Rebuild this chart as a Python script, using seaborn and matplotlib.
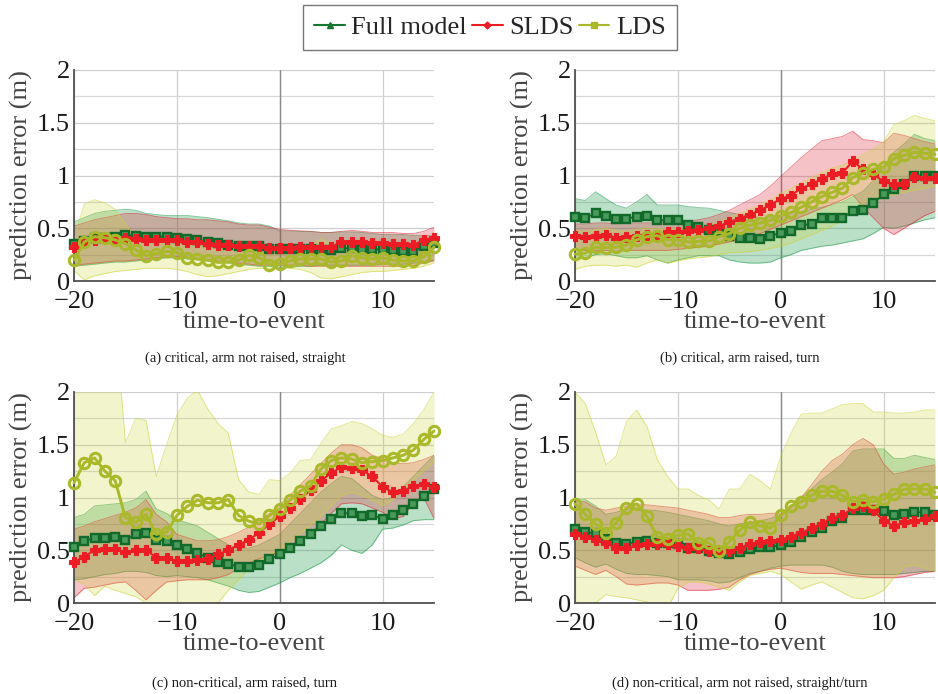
import numpy as np
import pandas as pd
import matplotlib
matplotlib.use("Agg")
import matplotlib.pyplot as plt
from matplotlib.lines import Line2D
from matplotlib.ticker import MultipleLocator
import seaborn as sns

# ---------------- data ----------------
time_to_event = list(range(-20, 16))

# (a) critical, arm not raised, straight
full_a = [0.355,0.38,0.41,0.41,0.42,0.437,0.43,0.42,0.42,0.42,0.41,0.40,0.39,0.374,0.359,0.343,0.333,0.33,0.333,0.30,0.30,0.30,0.30,0.30,0.29,0.29,0.31,0.31,0.30,0.30,0.30,0.29,0.28,0.28,0.33,0.36]
full_a_hi = [0.56,0.60,0.64,0.66,0.67,0.68,0.67,0.64,0.63,0.62,0.62,0.62,0.61,0.60,0.585,0.57,0.55,0.54,0.54,0.52,0.475,0.475,0.47,0.47,0.46,0.46,0.465,0.465,0.46,0.45,0.44,0.44,0.44,0.43,0.43,0.43]
full_a_lo = [0.14,0.15,0.16,0.17,0.18,0.18,0.19,0.20,0.21,0.22,0.22,0.21,0.20,0.19,0.18,0.17,0.16,0.15,0.14,0.14,0.13,0.13,0.14,0.14,0.15,0.15,0.15,0.15,0.15,0.15,0.16,0.16,0.16,0.17,0.18,0.20]
slds_a = [0.32,0.37,0.39,0.405,0.39,0.41,0.40,0.39,0.39,0.39,0.39,0.37,0.365,0.35,0.34,0.34,0.333,0.33,0.333,0.31,0.31,0.31,0.32,0.32,0.32,0.32,0.37,0.37,0.365,0.36,0.36,0.35,0.35,0.34,0.39,0.405]
slds_a_hi = [0.52,0.55,0.58,0.60,0.62,0.64,0.64,0.63,0.61,0.60,0.59,0.59,0.58,0.58,0.57,0.56,0.54,0.53,0.53,0.51,0.49,0.48,0.475,0.47,0.46,0.46,0.47,0.48,0.47,0.46,0.46,0.46,0.45,0.45,0.47,0.51]
slds_a_lo = [0.15,0.16,0.17,0.18,0.19,0.19,0.20,0.21,0.22,0.23,0.23,0.22,0.21,0.20,0.19,0.18,0.17,0.16,0.15,0.15,0.15,0.15,0.15,0.14,0.14,0.14,0.14,0.14,0.14,0.14,0.14,0.14,0.14,0.15,0.17,0.19]
lds_a = [0.198,0.37,0.42,0.41,0.39,0.355,0.295,0.24,0.26,0.28,0.27,0.22,0.21,0.198,0.176,0.18,0.198,0.245,0.22,0.155,0.16,0.19,0.21,0.21,0.21,0.18,0.19,0.24,0.22,0.21,0.22,0.198,0.19,0.19,0.23,0.32]
lds_a_hi = [0.41,0.73,0.77,0.74,0.68,0.54,0.41,0.37,0.36,0.35,0.35,0.34,0.33,0.32,0.31,0.30,0.31,0.38,0.34,0.28,0.27,0.29,0.31,0.33,0.40,0.35,0.35,0.40,0.36,0.33,0.33,0.32,0.33,0.34,0.36,0.41]
lds_a_lo = [0.10,0.01,0.05,0.07,0.09,0.10,0.11,0.12,0.12,0.12,0.11,0.09,0.06,0.04,0.05,0.07,0.09,0.11,0.12,0.12,0.12,0.12,0.11,0.08,0.03,0.02,0.04,0.06,0.08,0.09,0.09,0.10,0.11,0.12,0.14,0.17]

# (b) critical, arm raised, turn
full_b = [0.61,0.60,0.64,0.62,0.59,0.59,0.61,0.62,0.575,0.575,0.58,0.53,0.515,0.48,0.475,0.43,0.41,0.41,0.40,0.43,0.455,0.47,0.53,0.54,0.60,0.60,0.60,0.66,0.67,0.74,0.82,0.87,0.92,1.0,1.0,1.0]
full_b_hi = [0.78,0.763,0.845,0.78,0.72,0.69,0.75,0.82,0.72,0.72,0.72,0.705,0.695,0.69,0.67,0.65,0.63,0.62,0.60,0.60,0.62,0.64,0.66,0.68,0.70,0.72,0.75,0.80,0.85,0.95,1.08,1.22,1.30,1.39,1.35,1.33]
full_b_lo = [0.20,0.22,0.25,0.26,0.24,0.22,0.22,0.24,0.20,0.17,0.20,0.22,0.24,0.24,0.24,0.20,0.18,0.17,0.17,0.18,0.22,0.25,0.29,0.31,0.33,0.34,0.36,0.38,0.40,0.45,0.51,0.50,0.52,0.55,0.58,0.60]
slds_b = [0.43,0.42,0.43,0.435,0.41,0.42,0.43,0.435,0.435,0.46,0.46,0.47,0.48,0.50,0.52,0.56,0.59,0.63,0.67,0.72,0.78,0.81,0.88,0.915,0.97,1.01,1.025,1.135,1.06,1.01,0.945,0.92,0.92,0.99,0.98,0.98]
slds_b_hi = [0.54,0.54,0.55,0.55,0.54,0.55,0.55,0.55,0.55,0.55,0.56,0.57,0.58,0.60,0.63,0.67,0.72,0.77,0.82,0.90,0.99,1.08,1.17,1.25,1.33,1.35,1.37,1.42,1.34,1.33,1.31,1.40,1.38,1.35,1.32,1.30]
slds_b_lo = [0.29,0.29,0.29,0.29,0.28,0.29,0.29,0.29,0.29,0.29,0.30,0.31,0.32,0.33,0.35,0.37,0.39,0.41,0.45,0.49,0.53,0.57,0.61,0.65,0.69,0.73,0.77,0.82,0.70,0.60,0.50,0.44,0.50,0.56,0.62,0.66]
lds_b = [0.255,0.264,0.32,0.317,0.32,0.34,0.39,0.42,0.43,0.39,0.39,0.37,0.375,0.38,0.42,0.45,0.50,0.53,0.55,0.575,0.62,0.65,0.70,0.75,0.80,0.84,0.88,0.98,1.02,1.06,1.08,1.16,1.19,1.22,1.21,1.20]
lds_b_hi = [0.48,0.47,0.49,0.50,0.48,0.47,0.49,0.50,0.50,0.49,0.50,0.50,0.51,0.53,0.56,0.60,0.64,0.68,0.72,0.77,0.83,0.88,0.93,0.98,1.03,1.07,1.10,1.14,1.20,1.25,1.32,1.48,1.52,1.57,1.54,1.52]
lds_b_lo = [0.11,0.14,0.15,0.15,0.14,0.15,0.13,0.17,0.20,0.17,0.19,0.21,0.22,0.23,0.25,0.27,0.27,0.28,0.29,0.31,0.33,0.36,0.40,0.44,0.48,0.52,0.58,0.66,0.74,0.78,0.80,0.82,0.84,0.86,0.88,0.90]

# (c) non-critical, arm raised, turn
full_c = [0.53,0.585,0.62,0.62,0.63,0.60,0.65,0.665,0.60,0.59,0.55,0.515,0.47,0.43,0.39,0.37,0.345,0.345,0.36,0.415,0.46,0.52,0.59,0.655,0.73,0.80,0.85,0.85,0.82,0.83,0.80,0.83,0.88,0.94,1.01,1.08]
full_c_hi = [0.81,0.84,0.92,0.93,0.94,0.95,0.98,1.06,0.89,0.85,0.79,0.76,0.73,0.67,0.61,0.55,0.52,0.52,0.55,0.60,0.65,0.75,0.85,0.95,1.05,1.13,1.20,1.18,1.10,1.02,0.98,1.00,1.10,1.20,1.30,1.40]
full_c_lo = [0.22,0.23,0.25,0.27,0.28,0.30,0.30,0.29,0.26,0.25,0.26,0.25,0.24,0.22,0.19,0.16,0.12,0.10,0.11,0.15,0.19,0.24,0.28,0.33,0.38,0.45,0.55,0.50,0.47,0.55,0.70,0.71,0.74,0.78,0.79,0.79]
slds_c = [0.385,0.44,0.50,0.51,0.51,0.48,0.50,0.505,0.43,0.43,0.40,0.40,0.41,0.415,0.46,0.50,0.55,0.60,0.665,0.75,0.82,0.90,0.985,1.07,1.16,1.23,1.29,1.28,1.26,1.20,1.10,1.05,1.06,1.11,1.125,1.10]
slds_c_hi = [0.70,0.73,0.77,0.80,0.83,0.86,0.90,0.98,0.84,0.77,0.65,0.62,0.59,0.59,0.60,0.63,0.67,0.72,0.78,0.85,0.93,1.02,1.12,1.22,1.32,1.42,1.50,1.50,1.47,1.40,1.37,1.33,1.32,1.33,1.36,1.40]
slds_c_lo = [0.05,0.14,0.15,0.17,0.19,0.20,0.12,0.03,0.12,0.20,0.21,0.22,0.22,0.22,0.24,0.27,0.33,0.38,0.42,0.45,0.48,0.54,0.60,0.66,0.75,0.85,0.94,0.95,0.94,0.90,0.86,0.80,0.82,0.95,1.0,0.80]
lds_c = [1.14,1.33,1.375,1.25,1.16,0.81,0.765,0.84,0.65,0.67,0.83,0.915,0.975,0.95,0.95,0.98,0.83,0.775,0.75,0.83,0.89,0.975,1.06,1.11,1.27,1.35,1.375,1.365,1.33,1.34,1.35,1.375,1.40,1.45,1.55,1.63]
lds_c_hi = [2.5,2.5,2.5,2.5,2.7,1.52,1.75,1.73,1.20,1.50,1.78,1.94,2.02,1.84,1.70,1.61,1.17,1.05,1.03,1.17,1.16,1.23,1.35,1.36,1.51,1.65,1.68,1.72,1.70,1.65,1.59,1.57,1.60,1.70,1.83,2.0]
lds_c_lo = [0.22,0.18,0.07,0.16,0.12,0.09,0.06,0.0,-0.2,-0.3,-0.3,-0.3,-0.3,-0.2,0.0,0.12,0.22,0.32,0.40,0.46,0.50,0.58,0.66,0.74,0.82,0.92,1.02,1.05,1.02,0.98,0.92,0.98,1.08,1.16,1.25,1.34]

# (d) non-critical, arm not raised, straight/turn
full_d = [0.70,0.67,0.66,0.61,0.57,0.56,0.58,0.585,0.57,0.57,0.56,0.52,0.52,0.49,0.47,0.46,0.48,0.515,0.53,0.53,0.55,0.58,0.625,0.67,0.71,0.78,0.81,0.88,0.88,0.88,0.875,0.83,0.84,0.86,0.86,0.83]
full_d_hi = [0.975,0.98,0.92,0.84,0.86,0.89,0.90,0.88,0.875,0.86,0.84,0.82,0.80,0.78,0.75,0.73,0.75,0.765,0.78,0.80,0.84,0.92,1.00,1.08,1.17,1.24,1.32,1.44,1.46,1.46,1.46,1.37,1.37,1.40,1.38,1.36]
full_d_lo = [0.43,0.38,0.34,0.37,0.32,0.28,0.27,0.27,0.26,0.25,0.22,0.22,0.22,0.21,0.19,0.20,0.24,0.28,0.30,0.33,0.35,0.36,0.36,0.36,0.36,0.34,0.30,0.28,0.27,0.27,0.27,0.27,0.28,0.29,0.30,0.30]
slds_d = [0.65,0.63,0.60,0.57,0.52,0.52,0.55,0.56,0.56,0.56,0.54,0.52,0.52,0.49,0.49,0.49,0.52,0.56,0.58,0.585,0.60,0.63,0.665,0.71,0.75,0.81,0.83,0.90,0.915,0.88,0.78,0.73,0.765,0.775,0.80,0.82]
slds_d_hi = [0.96,0.96,0.90,0.88,0.90,0.92,0.94,0.93,0.92,0.91,0.90,0.88,0.86,0.84,0.81,0.81,0.83,0.84,0.84,0.85,0.85,0.90,1.00,1.12,1.25,1.35,1.41,1.50,1.56,1.50,1.32,1.22,1.24,1.27,1.29,1.31]
slds_d_lo = [0.35,0.31,0.27,0.31,0.25,0.18,0.17,0.18,0.19,0.19,0.17,0.12,0.12,0.12,0.13,0.15,0.22,0.27,0.30,0.32,0.33,0.31,0.29,0.28,0.28,0.28,0.27,0.26,0.25,0.24,0.24,0.24,0.25,0.27,0.29,0.30]
lds_d = [0.94,0.84,0.75,0.665,0.76,0.90,0.94,0.82,0.625,0.61,0.64,0.655,0.57,0.57,0.49,0.58,0.69,0.765,0.73,0.71,0.83,0.92,0.96,1.02,1.06,1.06,1.02,0.96,0.975,0.96,0.985,1.03,1.08,1.08,1.08,1.05]
lds_d_hi = [2.0,1.89,1.62,1.31,1.39,1.72,1.83,1.67,1.36,1.20,1.08,1.08,1.02,0.98,0.89,1.08,1.08,1.22,1.16,1.08,1.39,1.61,1.79,1.80,1.80,1.84,1.88,1.89,1.89,1.81,1.81,1.80,1.80,1.81,1.83,1.83]
lds_d_lo = [-0.1,-0.05,0.0,0.08,0.06,0.05,0.03,0.01,-0.05,-0.05,0.14,0.20,0.20,0.18,0.15,0.12,0.20,0.26,0.28,0.30,0.27,0.20,0.13,0.17,0.20,0.15,0.10,0.05,0.04,0.07,0.12,0.24,0.34,0.36,0.33,0.30]

captions = ["(a) critical, arm not raised, straight",
            "(b) critical, arm raised, turn",
            "(c) non-critical, arm raised, turn",
            "(d) non-critical, arm not raised, straight/turn"]
model_names = ["Full model", "SLDS", "LDS"]
x_ticks = [-20, -10, 0, 10]
y_ticks = [0, 0.5, 1, 1.5, 2]
y_ticklabels = ["0", "0.5", "1", "1.5", "2"]

panels = [
    {"Full model": (full_a, full_a_lo, full_a_hi), "SLDS": (slds_a, slds_a_lo, slds_a_hi), "LDS": (lds_a, lds_a_lo, lds_a_hi)},
    {"Full model": (full_b, full_b_lo, full_b_hi), "SLDS": (slds_b, slds_b_lo, slds_b_hi), "LDS": (lds_b, lds_b_lo, lds_b_hi)},
    {"Full model": (full_c, full_c_lo, full_c_hi), "SLDS": (slds_c, slds_c_lo, slds_c_hi), "LDS": (lds_c, lds_c_lo, lds_c_hi)},
    {"Full model": (full_d, full_d_lo, full_d_hi), "SLDS": (slds_d, slds_d_lo, slds_d_hi), "LDS": (lds_d, lds_d_lo, lds_d_hi)},
]

# ---------------- style ----------------
sns.set_style("white")
plt.rcParams["font.family"] = ["Liberation Serif", "DejaVu Serif"]

line_col = {"Full model": "#16752f", "SLDS": "#ec1c24", "LDS": "#a9b92a"}
fill_col = {"Full model": "#1f9a4a", "SLDS": "#de2637", "LDS": "#ccd437"}
fill_alpha = {"Full model": 0.30, "SLDS": 0.28, "LDS": 0.25}
marker_kw = {
    "Full model": dict(marker="s", markersize=5.8, markerfacecolor="#4a9a5c", markeredgecolor="#11692a", markeredgewidth=1.7, linewidth=1.4),
    "SLDS": dict(marker="P", markersize=7.0, markerfacecolor="#ec1c24", markeredgecolor="#ec1c24", markeredgewidth=0.8, linewidth=1.5),
    "LDS": dict(marker="o", markersize=7.5, markerfacecolor="none", markeredgecolor="#a9b92a", markeredgewidth=2.2, linewidth=2.1),
}

fig = plt.figure(figsize=(9.38, 6.94), dpi=100)
W, H = 938.0, 694.0
ax_rects = [(74, 70), (575, 70), (74, 392), (575, 392)]
ax_w, ax_h = 360.0, 211.0

for i, (panel, (lx, ty)) in enumerate(zip(panels, ax_rects)):
    ax = fig.add_axes([lx / W, 1 - (ty + ax_h) / H, ax_w / W, ax_h / H])
    # bands
    for name in model_names:
        mean, lo, hi = panel[name]
        ax.fill_between(time_to_event, lo, hi, color=fill_col[name], alpha=fill_alpha[name], linewidth=0, zorder=2)
        ax.plot(time_to_event, lo, color=fill_col[name], alpha=0.55, linewidth=0.7, zorder=2)
        ax.plot(time_to_event, hi, color=fill_col[name], alpha=0.55, linewidth=0.7, zorder=2)
    # means
    for name in model_names:
        mean, lo, hi = panel[name]
        df = pd.DataFrame({"t": time_to_event, "err": mean})
        sns.lineplot(data=df, x="t", y="err", ax=ax, color=line_col[name], clip_on=False,
                     zorder=5, **marker_kw[name])
    ax.set_xlim(-20, 15)
    ax.set_ylim(0, 2)
    ax.set_xticks(x_ticks)
    ax.set_yticks(y_ticks)
    ax.set_yticklabels(y_ticklabels)
    ax.yaxis.set_minor_locator(MultipleLocator(0.25))
    ax.grid(True, which="major", color="#cfcfcf", linewidth=0.9, zorder=0)
    ax.grid(True, which="minor", axis="y", color="#d8d8d8", linewidth=0.9, zorder=0)
    ax.axvline(0, color="#8a8a8a", linewidth=1.0, zorder=1)
    ax.set_axisbelow(True)
    for s in ["top", "right"]:
        ax.spines[s].set_visible(False)
    for s in ["left", "bottom"]:
        ax.spines[s].set_color("#505050")
        ax.spines[s].set_linewidth(1.3)
    ax.tick_params(axis="both", which="both", direction="in", length=3, color="#707070",
                   labelsize=19, labelcolor="#1a1a1a")
    ax.tick_params(axis="x", pad=7)
    ax.tick_params(axis="y", pad=3)
    ax.set_xlabel("time-to-event", fontsize=19, color="#454545")
    ax.set_ylabel("prediction error (m)", fontsize=19, color="#454545")
    ax.xaxis.set_label_coords(0.5, -0.142)
    ax.xaxis.label.set_va("top")
    ax.yaxis.set_label_coords(-0.115, 0.5)

    cx = 245 if i % 2 == 0 else 740
    cy = 358 if i < 2 else 683
    fig.text(cx / W, 1 - cy / H, captions[i], ha="center", va="center", fontsize=10.5, color="#1a1a1a")

handles = [
    Line2D([], [], color=line_col["Full model"], marker="^", markersize=5, linewidth=1.5),
    Line2D([], [], color=line_col["SLDS"], marker="D", markersize=3.5, linewidth=1.5),
    Line2D([], [], color=line_col["LDS"], marker="s", markersize=4, linewidth=1.5),
]
leg = fig.legend(handles, model_names, loc="center", bbox_to_anchor=(490 / W, 1 - 27.5 / H),
                 ncol=3, fontsize=19, frameon=True, fancybox=False, edgecolor="#555555",
                 handlelength=1.15, handletextpad=0.25, columnspacing=0.2, borderpad=0.42,
                 borderaxespad=0)
leg.get_frame().set_linewidth(1.0)

fig.savefig("out.png", dpi=100)
